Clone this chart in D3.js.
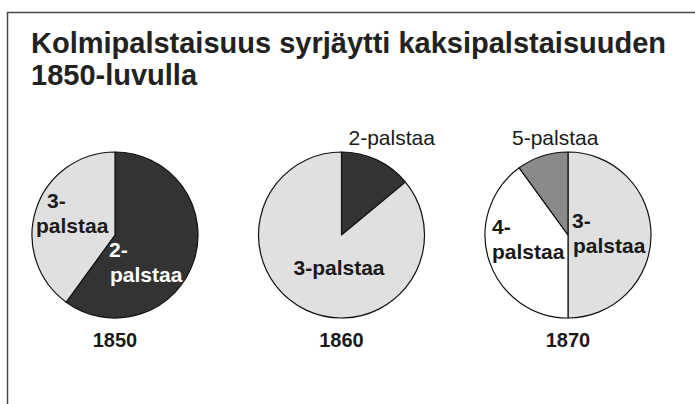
<!DOCTYPE html>
<html>
<head>
<meta charset="utf-8">
<script src="https://cdn.jsdelivr.net/npm/d3@7"></script>
<style>
  body { margin: 0; background: #fff; }
  text { font-family: "Liberation Sans", Arial, sans-serif; }
</style>
</head>
<body>
<div class="chart"></div>
<script>
// palstamäärät (sarakkeet) ja osuudet prosentteina vuosittain
var years = ["1850", "1860", "1870"];
var columns = ["2-palstaa", "3-palstaa", "4-palstaa", "5-palstaa"];
var shares1850 = [60, 40, 0, 0];
var shares1860 = [14, 86, 0, 0];
var shares1870 = [0, 50, 40, 10];
var titleLines = ["Kolmipalstaisuus syrjäytti kaksipalstaisuuden", "1850-luvulla"];

var shares = [shares1850, shares1860, shares1870];

var width = 695,
    height = 404,
    radius = 83,
    cy = 235;

var fill = d3.scaleOrdinal().domain(columns).range(["#333333", "#e0e0e0", "#ffffff", "#8a8a8a"]);
var xPie = d3.scalePoint().domain(years).range([115, 568]);

// label placement relative to pie centre: [year, column, lines, dx, dy, bold, colour]
var labels = [
    ["1850", "3-palstaa", ["3-", "palstaa"], [-68, -79], -27, true, "#1a1a1a"],
    ["1850", "2-palstaa", ["2-", "palstaa"], [-6, -5], 22, true, "#ffffff"],
    ["1860", "2-palstaa", ["2-palstaa"], [7], -90, false, "#1a1a1a"],
    ["1860", "3-palstaa", ["3-palstaa"], [-48], 40, true, "#1a1a1a"],
    ["1870", "5-palstaa", ["5-palstaa"], [-56], -90, false, "#1a1a1a"],
    ["1870", "4-palstaa", ["4-", "palstaa"], [-76, -76], -1, true, "#1a1a1a"],
    ["1870", "3-palstaa", ["3-", "palstaa"], [4, 5], -7, true, "#1a1a1a"]
];

var svg = d3.select(".chart").append("svg")
    .attr("width", width)
    .attr("height", height);

// frame
svg.append("path")
    .attr("d", "M7.5," + height + "V12.5H" + width)
    .attr("fill", "none")
    .attr("stroke", "#4a4a4a")
    .attr("stroke-width", 1.5);

svg.append("g").selectAll("text")
    .data(titleLines).enter()
    .append("text")
    .attr("x", 31)
    .attr("y", (d, i) => 53 + i * 32)
    .style("font-size", "29px")
    .style("font-weight", "bold")
    .style("fill", "#222")
    .text(d => d);

var pie = d3.pie().sort(null).value(d => d.value);
var arc = d3.arc().innerRadius(0).outerRadius(radius);

years.forEach((year, k) => {
    var rows = columns.map((c, i) => ({ name: c, value: shares[k][i] })).filter(d => d.value > 0);
    var g = svg.append("g")
        .attr("transform", `translate(${xPie(year)},${cy})`);

    g.selectAll("path")
        .data(pie(rows)).enter()
        .append("path")
        .attr("d", arc)
        .attr("fill", d => fill(d.data.name))
        .attr("stroke", "#111")
        .attr("stroke-width", 1.2)
        .attr("stroke-linejoin", "round");

    labels.filter(l => l[0] === year).forEach(l => {
        var t = g.append("text")
            .style("font-size", "21px")
            .style("font-weight", l[5] ? "bold" : "normal")
            .style("fill", l[6]);
        l[2].forEach((line, j) => {
            t.append("tspan")
                .attr("x", l[3][j])
                .attr("y", l[4] + j * 25)
                .text(line);
        });
    });

    svg.append("text")
        .attr("x", xPie(year))
        .attr("y", 347)
        .attr("text-anchor", "middle")
        .style("font-size", "20px")
        .style("font-weight", "bold")
        .style("fill", "#1a1a1a")
        .text(year);
});
</script>
</body>
</html>
